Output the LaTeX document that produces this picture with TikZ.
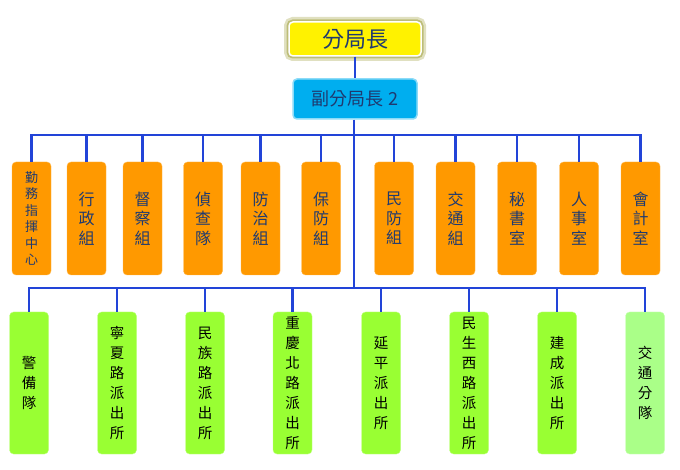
\documentclass[tikz,border=0pt]{standalone}
\usepackage{fontspec}
\newfontfamily\cjk{Noto Sans CJK TC}
\definecolor{linkblue}{HTML}{2244D8}
\definecolor{navytext}{HTML}{1F3A70}
\definecolor{deptorange}{HTML}{FF9900}
\definecolor{stationgreen}{HTML}{99FF33}
\definecolor{trafficgreen}{HTML}{AAFF88}
\definecolor{deputyblue}{HTML}{00AEEF}
\definecolor{glowolive}{HTML}{9A9A30}
\tikzset{
  link/.style={draw=linkblue, line width=2.6pt},
  dept/.style={rectangle, rounded corners=4pt, fill=deptorange, draw=deptorange!70!white,
    minimum width=39pt, minimum height=113pt, inner sep=0pt, align=center,
    text=navytext, font=\cjk\fontsize{16}{19.5}\selectfont},
  station/.style={rectangle, rounded corners=4pt, fill=stationgreen, draw=stationgreen!60!white,
    minimum width=39pt, minimum height=142pt, inner sep=0pt, align=center,
    text=black, font=\cjk\fontsize{14.5}{20}\selectfont}
}
\begin{document}
\begin{tikzpicture}[x=1pt,y=-1pt]
  \useasboundingbox (0,0) rectangle (680,470);

  % Top of the chart
  \node[rectangle, rounded corners=4pt, fill=yellow, draw=white, line width=1.5pt,
    preaction={draw=glowolive, line width=10pt, opacity=0.3},
    preaction={draw=glowolive, line width=5pt, opacity=0.5},
    minimum width=132pt, minimum height=34pt, text=navytext,
    font=\cjk\fontsize{22}{24}\selectfont] (chief) at (355,39) {分局長};
  \node[rectangle, rounded corners=4pt, fill=deputyblue, draw=deputyblue!45!white, line width=1.5pt,
    minimum width=124pt, minimum height=40pt, text=navytext,
    font=\cjk\fontsize{18}{20}\selectfont] (deputy) at (355,99) {副分局長 2};

  \coordinate (hubA) at (354,135);
  \coordinate (hubB) at (354,288);
  \draw[link] (chief.south) -- (deputy.north);
  \draw[link] (deputy.south -| hubA) -- (hubB);

  % Departments
  \node[dept, font=\cjk\fontsize{13}{16.5}\selectfont] (d1) at (31.5,218.5) {勤\\務\\指\\揮\\中\\心};
  \foreach \i/\x/\t in {2/86.5/{行\\政\\組}, 3/142.5/{督\\察\\組}, 4/203/{偵\\查\\隊},
      5/260.5/{防\\治\\組}, 6/321/{保\\防\\組}, 7/394/{民\\防\\組}, 8/455.5/{交\\通\\組},
      9/517/{秘\\書\\室}, 10/579/{人\\事\\室}, 11/640.5/{會\\計\\室}}
    \node[dept] (d\i) at (\x,218.5) {\t};
  \foreach \i in {1,...,11}
    \draw[link] (d\i.north) |- (hubA);

  % Stations
  \foreach \i/\x/\t in {1/29/{警\\備\\隊}, 2/117/{寧\\夏\\路\\派\\出\\所},
      3/205/{民\\族\\路\\派\\出\\所}, 4/292.5/{重\\慶\\北\\路\\派\\出\\所},
      5/381/{延\\平\\派\\出\\所}, 6/469/{民\\生\\西\\路\\派\\出\\所},
      7/557/{建\\成\\派\\出\\所}}
    \node[station] (s\i) at (\x,383) {\t};
  \node[station, fill=trafficgreen, draw=trafficgreen!60!white] (s8) at (645,383) {交\\通\\分\\隊};
  \foreach \i in {1,...,8}
    \draw[link] (s\i.north) |- (hubB);
\end{tikzpicture}
\end{document}
